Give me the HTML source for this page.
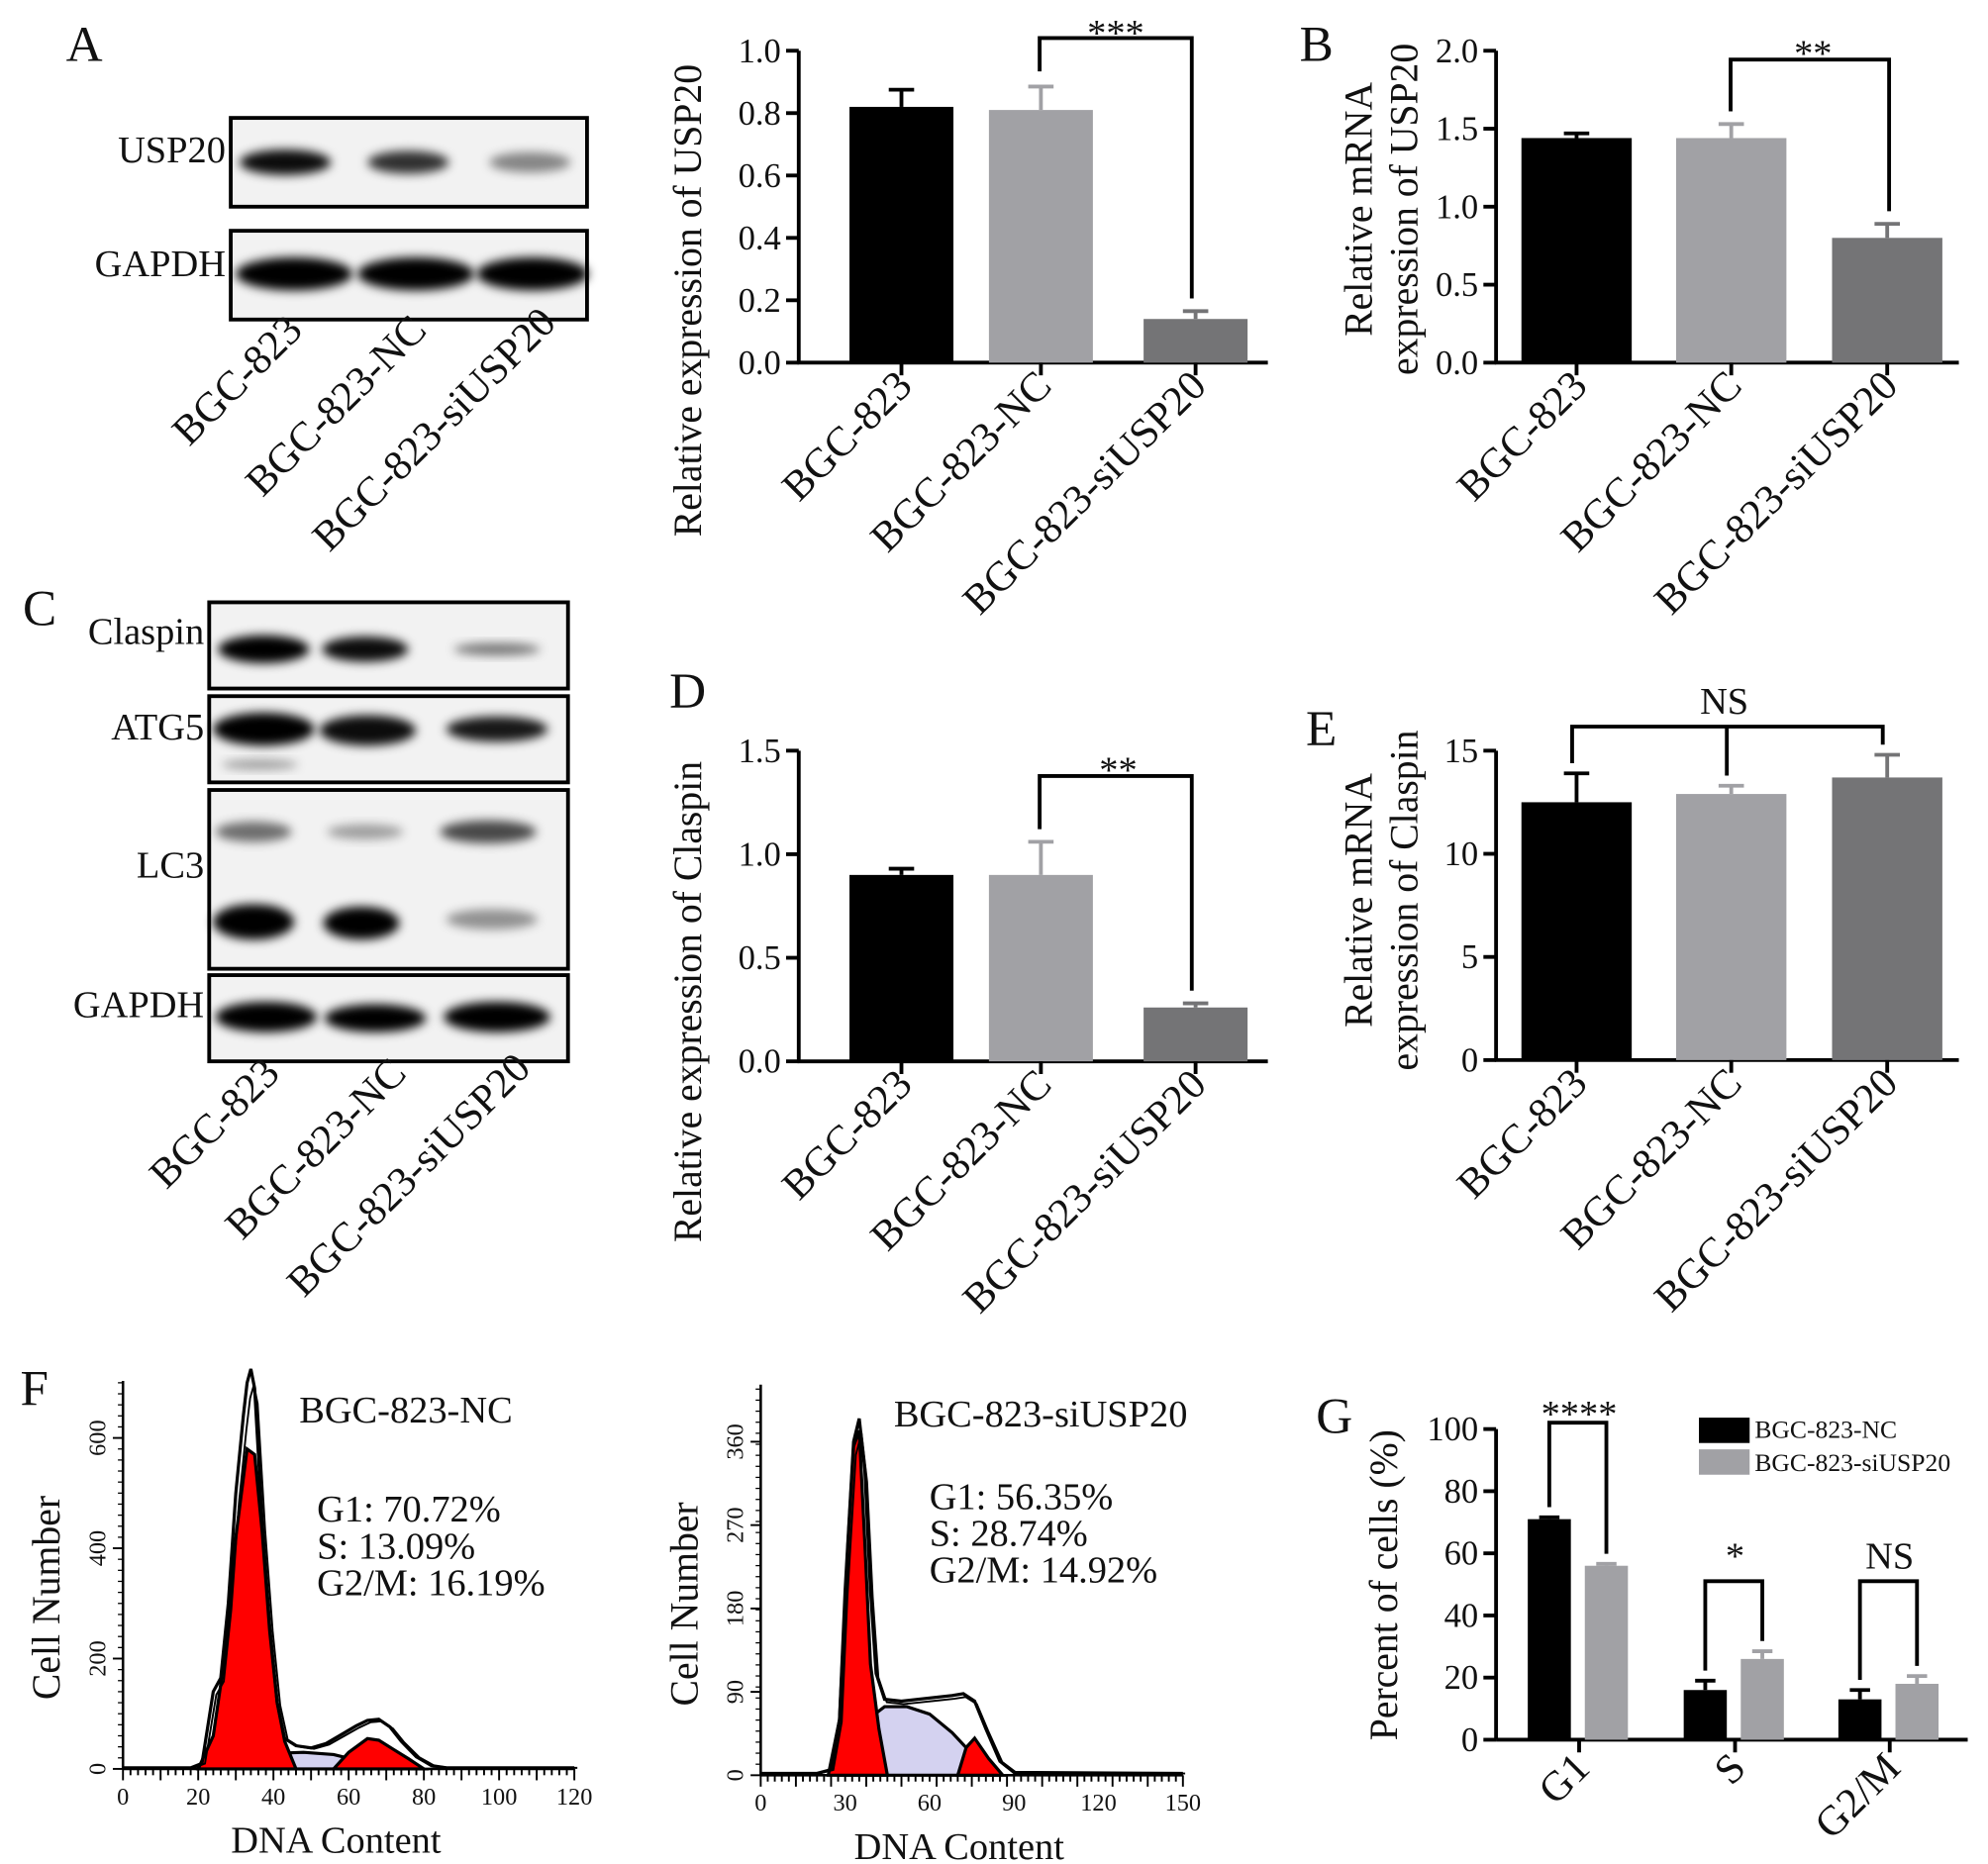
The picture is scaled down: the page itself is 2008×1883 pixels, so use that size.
<!DOCTYPE html>
<html><head><meta charset="utf-8"><style>
html,body{margin:0;padding:0;background:#fff}
svg{display:block}
text{font-family:"Liberation Serif",serif;fill:#111}
</style></head><body>
<svg id="fig" width="2008" height="1883" viewBox="0 0 1568 1470" preserveAspectRatio="none" xmlns="http://www.w3.org/2000/svg">
<defs>
<filter id="blur" x="-20%" y="-50%" width="140%" height="200%"><feGaussianBlur stdDeviation="4"/></filter>
</defs>
<g id="root"></g>
</svg>
<script>
// ---------- data ----------
const cats = ["BGC-823","BGC-823-NC","BGC-823-siUSP20"];
const colors3 = ["#000","#a1a1a5","#747476"];
const aVals = [0.82,0.81,0.14];
const aErr = [0.055,0.075,0.025];
const aTicks = [0.0,0.2,0.4,0.6,0.8,1.0];
const bVals = [1.44,1.44,0.8];
const bErr = [0.03,0.09,0.09];
const bTicks = [0.0,0.5,1.0,1.5,2.0];
const dVals = [0.9,0.9,0.26];
const dErr = [0.03,0.16,0.02];
const dTicks = [0.0,0.5,1.0,1.5];
const eVals = [12.5,12.9,13.7];
const eErr = [1.4,0.4,1.1];
const eTicks = [0,5,10,15];
const gGroups = ["G1","S","G2/M"];
const gNC = [71,16,13];
const gNCErr = [0.6,3,3];
const gSi = [56,26,18];
const gSiErr = [0.6,2.5,2.5];
const gTicks = [0,20,40,60,80,100];
const h1Ticks = [0,20,40,60,80,100,120];
const h1YTicks = [0,200,400,600];
const h1Outline = [[0,2],[18,2],[21,10],[24,140],[26,165],[28,300],[30,500],[32,640],[33,700],[34,725],[35,690],[37,450],[39,260],[41,120],[43,55],[46,42],[50,38],[54,46],[58,62],[62,78],[65,88],[68,90],[71,76],[74,50],[78,22],[82,6],[86,2],[120,2]];
const h1G1 = [[20,0],[24,60],[27,200],[30,420],[33,580],[35,570],[37,430],[39,250],[41,120],[43,50],[46,0]];
const h1S = [[28,0],[34,18],[40,28],[48,30],[56,26],[62,16],[70,5],[74,0]];
const h1G2 = [[56,0],[60,30],[65,55],[68,52],[72,35],[76,18],[80,0]];
const h2Ticks = [0,30,60,90,120,150];
const h2YTicks = [0,90,180,270,360];
const h2Outline = [[0,2],[20,2],[25,6],[28,60],[30,200],[33,360],[35,385],[37,330],[39,200],[41,110],[44,82],[50,80],[56,82],[62,84],[68,86],[72,88],[76,80],[80,50],[85,15],[90,3],[150,2]];
const h2G1 = [[24,0],[28,60],[31,250],[33,355],[35,372],[37,250],[39,120],[42,50],[45,0]];
const h2S = [[28,0],[33,30],[38,60],[44,74],[52,74],[60,66],[68,46],[76,20],[84,0]];
const h2G2 = [[70,0],[73,30],[76,40],[81,18],[86,0]];

const NS="http://www.w3.org/2000/svg";
const root=document.getElementById('root');
function el(tag,attrs,parent,txt){const e=document.createElementNS(NS,tag);for(const k in attrs)e.setAttribute(k,attrs[k]);if(txt!==undefined)e.textContent=txt;(parent||root).appendChild(e);return e;}
function grp(name,parent){const g=el('g',{},parent);return g;}

[["A",52,48],["B",1025,48],["C",18,493],["D",528,558],["E",1030,588],["F",16,1108],["G",1038,1130]].forEach(p=>{
  const t=el('text',{x:p[1],y:p[2],'font-size':40},root,p[0]);
  
  
});

function rotLabel(g,x,y,s,fs){const t=el('text',{x:x,y:y,'text-anchor':'end','font-size':fs||33,transform:`rotate(-45 ${x} ${y})`},g,s);return t;}

function barChart(name,ax,yTop,yBot,xEnd,ticks,vals,errs,bx,bw,title,titleX,titleY,fmt){
  const g=grp(name);
  const max=ticks[ticks.length-1];
  const Y=v=>yBot-(v/max)*(yBot-yTop);
  el('line',{x1:ax,y1:yTop,x2:ax,y2:yBot+1,stroke:'#000','stroke-width':3},g);
  el('line',{x1:ax-1,y1:yBot,x2:xEnd,y2:yBot,stroke:'#000','stroke-width':3},g);
  ticks.forEach(t=>{el('line',{x1:ax-10,y1:Y(t),x2:ax,y2:Y(t),stroke:'#000','stroke-width':3},g);
    const tl=el('text',{x:ax-14,y:Y(t)+9,'text-anchor':'end','font-size':27},g,fmt(t));
    });
  vals.forEach((v,i)=>{const x=bx[i];
    const ey=Y(v+errs[i]);
    el('line',{x1:x+bw/2,y1:ey,x2:x+bw/2,y2:Y(v),stroke:colors3[i],'stroke-width':3},g);
    el('line',{x1:x+bw/2-10,y1:ey,x2:x+bw/2+10,y2:ey,stroke:colors3[i],'stroke-width':3},g);
    const r=el('rect',{x:x,y:Y(v),width:bw,height:yBot-Y(v),fill:colors3[i]},g);
    
    el('line',{x1:x+bw/2,y1:yBot,x2:x+bw/2,y2:yBot+10,stroke:'#000','stroke-width':3},g);
    rotLabel(g,x+bw/2+10,yBot+20,cats[i]);
  });
  title.forEach((tt,k)=>{const tx=titleX[k],ty=titleY;
    const t=el('text',{x:tx,y:ty,'text-anchor':'middle','font-size':31,transform:`rotate(-90 ${tx} ${ty})`},g,tt);
    });
  return {g,Y};
}
function bracket(g,x1,y1,x2,y2,top,label,lx,ly,fs){
  el('polyline',{points:`${x1},${y1} ${x1},${top} ${x2},${top} ${x2},${y2}`,fill:'none',stroke:'#000','stroke-width':3},g);
  const t=el('text',{x:lx,y:ly,'text-anchor':'middle','font-size':fs||30},g,label);
  
}
const f1=t=>t.toFixed(1);
const chA=barChart('chart-a',630,40,286,1000,aTicks,aVals,aErr,[670,780,902],82,["Relative expression of USP20"],[553],237,f1);
bracket(chA.g,820,chA.Y(aVals[1]+aErr[1])-12,940,chA.Y(aVals[2]+aErr[2])-10,30,"***",880,36);
const chB=barChart('chart-b',1180,40,286,1545,bTicks,bVals,bErr,[1200,1322,1445],87,["Relative mRNA","expression of USP20"],[1082,1118],165,f1);
bracket(chB.g,1365,chB.Y(bVals[1]+bErr[1])-10,1490,chB.Y(bVals[2]+bErr[2])-10,47,"**",1430,52);
const chD=barChart('chart-d',630,592,837,1000,dTicks,dVals,dErr,[670,780,902],82,["Relative expression of Claspin"],[553],790,f1);
bracket(chD.g,820,chD.Y(dVals[1]+dErr[1])-10,940,chD.Y(dVals[2]+dErr[2])-10,612,"**",882,617);
const chE=barChart('chart-e',1180,592,836,1545,eTicks,eVals,eErr,[1200,1322,1445],87,["Relative mRNA","expression of Claspin"],[1082,1118],710,t=>String(t));
el('polyline',{points:`1240,${chE.Y(eVals[0]+eErr[0])-8} 1240,573 1485,573 1485,${chE.Y(eVals[2]+eErr[2])-8}`,fill:'none',stroke:'#000','stroke-width':3},chE.g);
el('line',{x1:1362,y1:573,x2:1362,y2:chE.Y(eVals[1]+eErr[1])-8,stroke:'#000','stroke-width':3},chE.g);
{const t=el('text',{x:1360,y:563,'text-anchor':'middle','font-size':30},chE.g,'NS');}

function blot(name,x,y,w,h,bands,label,ly){
  const g=grp(name);
  el('rect',{x:x,y:y,width:w,height:h,fill:'#f2f2f2',stroke:'#000','stroke-width':3},g);
  bands.forEach(b=>{el('ellipse',{cx:b[0],cy:b[1],rx:b[2],ry:b[3],fill:'#000','fill-opacity':b[4],filter:'url(#blur)'},g);});
  const t=el('text',{x:x-4,y:ly,'text-anchor':'end','font-size':30},g,label);
  
}
blot('blot-usp20',182,93,281,70,[[225,128,36,10,0.95],[322,128,32,9,0.8],[418,128,32,8,0.45]],'USP20',128);
blot('blot-gapdh-a',182,182,281,70,[[232,216,46,13,1],[328,216,46,13,1],[420,216,44,13,1]],'GAPDH',218);
{const g=grp('blot-a-lanes');rotLabel(g,240,262,cats[0]);rotLabel(g,338,262,cats[1]);rotLabel(g,440,256,cats[2]);}
blot('blot-claspin',165,475,283,68,[[208,512,36,11,1],[288,512,34,10,0.95],[392,512,34,5,0.5]],'Claspin',508);
blot('blot-atg5',165,549,283,68,[[208,575,40,13,1],[290,576,38,12,0.95],[392,575,40,10,0.9],[205,603,30,4,0.35]],'ATG5',583);
blot('blot-lc3',165,623,283,141,[[200,656,30,8,0.55],[288,656,30,6,0.35],[385,656,38,9,0.7],[200,727,32,14,1],[285,728,30,13,1],[388,725,36,8,0.4]],'LC3',692);
blot('blot-gapdh-c',165,769,283,68,[[210,802,40,12,1],[296,803,40,11,1],[392,802,42,12,1]],'GAPDH',802);
{const g=grp('blot-c-lanes');rotLabel(g,222,848,cats[0]);rotLabel(g,322,848,cats[1]);rotLabel(g,420,844,cats[2]);}

function hist(name,ax,bot,xpx,xmax,ypxPer,xt,yt,outline,g1,s,g2,title,stats,tx){
  const g=grp(name);
  const X=v=>ax+v*xpx/xmax, Y=v=>bot-v*ypxPer;
  const pts=a=>a.map(p=>X(p[0])+','+Y(p[1])).join(' ');
  el('polygon',{points:pts(s),fill:'#d4d2f0',stroke:'#000','stroke-width':2.5},g);
  el('polygon',{points:pts(g1),fill:'#f00',stroke:'#000','stroke-width':2.5},g);
  el('polygon',{points:pts(g2),fill:'#f00',stroke:'#000','stroke-width':2.5},g);
  el('polyline',{points:pts(outline),fill:'none',stroke:'#000','stroke-width':2.5},g);
  el('polyline',{points:outline.map(p=>X(p[0]+0.8)+','+Y(p[1]*0.96)).join(' '),fill:'none',stroke:'#000','stroke-width':1.5},g);
  const top=Y(yt[yt.length-1])-45;
  el('line',{x1:ax,y1:top,x2:ax,y2:bot,stroke:'#000','stroke-width':2},g);
  el('line',{x1:ax,y1:bot,x2:X(xmax),y2:bot,stroke:'#000','stroke-width':2},g);
  for(let v=0;v<=xmax+0.01;v+=xmax/60){el('line',{x1:X(v),y1:bot,x2:X(v),y2:bot+(Math.round(v/(xmax/60))%5==0?9:5),stroke:'#000','stroke-width':1.5},g);}
  xt.forEach(v=>{const t=el('text',{x:X(v),y:bot+28,'text-anchor':'middle','font-size':19},g,String(v));});
  yt.forEach(v=>{const yy=Y(v);el('line',{x1:ax-8,y1:yy,x2:ax,y2:yy,stroke:'#000','stroke-width':1.5},g);
    const t=el('text',{x:ax-14,y:yy,'text-anchor':'middle','font-size':19,transform:`rotate(-90 ${ax-14} ${yy})`},g,String(v));});
  for(let yy=bot;yy>top;yy-=8.7)el('line',{x1:ax-4,y1:yy,x2:ax,y2:yy,stroke:'#000','stroke-width':1},g);
  const xt2=el('text',{x:ax+xpx/2-10,y:bot+66,'text-anchor':'middle','font-size':30},g,'DNA Content');
  const yx=ax-50,yy2=bot-135;
  const yl=el('text',{x:yx,y:yy2,'text-anchor':'middle','font-size':31,transform:`rotate(-90 ${yx} ${yy2})`},g,'Cell Number');
  const tt=el('text',{x:title[1],y:title[2],'font-size':30},g,title[0]);
  stats.forEach((s2,i)=>{const t=el('text',{x:tx[0],y:tx[1]+i*29,'font-size':30},g,s2);});
}
hist('histogram-nc',97,1395,356,120,0.435,h1Ticks,h1YTicks,h1Outline,h1G1,h1S,h1G2,['BGC-823-NC',236,1122],['G1: 70.72%','S: 13.09%','G2/M: 16.19%'],[250,1200]);
hist('histogram-siusp20',600,1400,333,150,0.7306,h2Ticks,h2YTicks,h2Outline,h2G1,h2S,h2G2,['BGC-823-siUSP20',705,1125],['G1: 56.35%','S: 28.74%','G2/M: 14.92%'],[733,1190]);

{
  const g=grp('chart-g');
  const ax=1180,yTop=1127,yBot=1372;
  const Y=v=>yBot-v/100*(yBot-yTop);
  el('line',{x1:ax,y1:yTop,x2:ax,y2:yBot,stroke:'#000','stroke-width':3},g);
  el('line',{x1:ax,y1:yBot,x2:1552,y2:yBot,stroke:'#000','stroke-width':3},g);
  gTicks.forEach(t=>{el('line',{x1:ax-10,y1:Y(t),x2:ax,y2:Y(t),stroke:'#000','stroke-width':3},g);
    const tl=el('text',{x:ax-14,y:Y(t)+9,'text-anchor':'end','font-size':27},g,String(t));});
  const gx=[1205,1328,1450],bw=34,off=45;
  const sig=["****","*","NS"];
  gGroups.forEach((c,i)=>{
    [[gNC,gNCErr,'#000',0],[gSi,gSiErr,'#a1a1a5',off]].forEach(s=>{
      const x=gx[i]+s[3],v=s[0][i],e=s[1][i];
      el('line',{x1:x+bw/2,y1:Y(v+e),x2:x+bw/2,y2:Y(v),stroke:s[2],'stroke-width':3},g);
      el('line',{x1:x+bw/2-8,y1:Y(v+e),x2:x+bw/2+8,y2:Y(v+e),stroke:s[2],'stroke-width':3},g);
      const r=el('rect',{x:x,y:Y(v),width:bw,height:yBot-Y(v),fill:s[2]},g);
      
    });
    const cx=gx[i]+(bw+off)/2+1;
    el('line',{x1:cx,y1:yBot,x2:cx,y2:yBot+10,stroke:'#000','stroke-width':3},g);
    rotLabel(g,cx+10,yBot+24,c);
    const top=i==0?1122:1247;
    bracket(g,gx[i]+bw/2,Y(gNC[i]+gNCErr[i])-8,gx[i]+off+bw/2,Y(gSi[i]+gSiErr[i])-8,top,sig[i],cx,top-(i==0?-3:10),30);
  });
  const yl=el('text',{x:1102,y:1250,'text-anchor':'middle','font-size':31,transform:'rotate(-90 1102 1250)'},g,'Percent of cells  (%)');
  const lg=grp('legend',g);
  el('rect',{x:1340,y:1118,width:40,height:20,fill:'#000'},lg);
  el('rect',{x:1340,y:1143,width:40,height:20,fill:'#a1a1a5'},lg);
  const l1=el('text',{x:1384,y:1134,'font-size':20},lg,'BGC-823-NC');
  const l2=el('text',{x:1384,y:1160,'font-size':20},lg,'BGC-823-siUSP20');
}
</script>
</body></html>
